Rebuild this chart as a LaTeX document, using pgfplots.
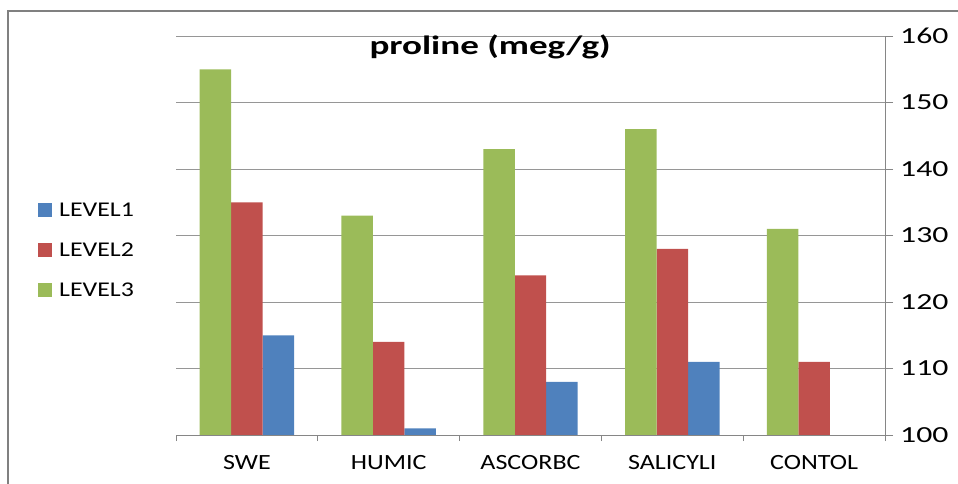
\documentclass[border=0pt]{standalone}
\usepackage{pgfplots}
\pgfplotsset{compat=1.18}
\usepackage{fontspec}
\setmainfont{Carlito}
\newfontfamily\fTitle{Carlito}[FakeStretch=1.4]
\newfontfamily\fTick{Carlito}[FakeStretch=1.38]
\newfontfamily\fLab{Carlito}[FakeStretch=1.2]
\newfontfamily\fLeg{Carlito}[FakeStretch=1.23]
\definecolor{cg}{RGB}{155,187,89}
\definecolor{cr}{RGB}{192,80,77}
\definecolor{cb}{RGB}{79,129,189}
\definecolor{axisgray}{RGB}{134,134,134}
\definecolor{gridgray}{RGB}{150,150,150}
\definecolor{bordergray}{RGB}{128,128,128}
\begin{document}
\begin{tikzpicture}
\useasboundingbox (0,0) rectangle (958bp,484bp);
\begin{axis}[
  at={(176bp,49bp)}, anchor=south west,
  scale only axis, width=709bp, height=399bp,
  xmin=-0.5, xmax=4.5, ymin=100, ymax=160,
  axis x line*=bottom, axis y line*=right,
  axis line style={draw=axisgray, line width=1bp},
  tick align=outside,
  xtick={0,1,2,3,4},
  xticklabels={SWE,HUMIC,ASCORBC,SALICYLI,CONTOL},
  minor xtick={-0.5,0.5,1.5,2.5,3.5,4.5},
  major x tick style={draw=none},
  minor x tick style={draw=axisgray, line width=1bp},
  minor tick length=6bp,
  major tick length=8bp,
  ytick={100,110,120,130,140,150,160},
  ytick style={draw=axisgray, line width=1bp},
  ymajorgrids,
  grid style={draw=gridgray, line width=1bp},
  /pgf/number format/assume math mode=true,
  yticklabel style={font=\fTick\fontsize{23bp}{27bp}\selectfont, anchor=west, inner sep=0pt, xshift=7bp},
  xticklabel style={font=\fLab\fontsize{21.7bp}{26bp}\selectfont, inner sep=0pt, yshift=-12bp},
  title={proline (meg/g)},
  title style={at={(0.443,0.957)}, anchor=center, inner sep=0pt, font=\fTitle\fontsize{26.5bp}{30bp}\selectfont\bfseries},
  legend style={at={(-0.1946,0.6134)}, anchor=north west, draw=none, fill=none, inner sep=0pt, row sep=0pt, column sep=7bp,
    nodes={inner sep=0pt, minimum height=39.8bp, font=\fLeg\fontsize{21bp}{24bp}\selectfont}},
  legend cell align=left,
]
\addplot[ybar, fill=cb, draw=none, bar width=0.222, bar shift=0.222,
  legend image code/.code={\fill[fill=cb] (0bp,-7bp) rectangle (14bp,7bp);}]
  coordinates {(0,115) (1,101) (2,108) (3,111)};
\addlegendentry{LEVEL1}
\addplot[ybar, fill=cr, draw=none, bar width=0.222, bar shift=0,
  legend image code/.code={\fill[fill=cr] (0bp,-7bp) rectangle (14bp,7bp);}]
  coordinates {(0,135) (1,114) (2,124) (3,128) (4,111)};
\addlegendentry{LEVEL2}
\addplot[ybar, fill=cg, draw=none, bar width=0.222, bar shift=-0.222,
  legend image code/.code={\fill[fill=cg] (0bp,-7bp) rectangle (14bp,7bp);}]
  coordinates {(0,155) (1,133) (2,143) (3,146) (4,131)};
\addlegendentry{LEVEL3}
\end{axis}
\draw[color=bordergray, line width=2bp] (8bp,0bp) -- (8bp,473bp) -- (958bp,473bp);
\end{tikzpicture}
\end{document}
